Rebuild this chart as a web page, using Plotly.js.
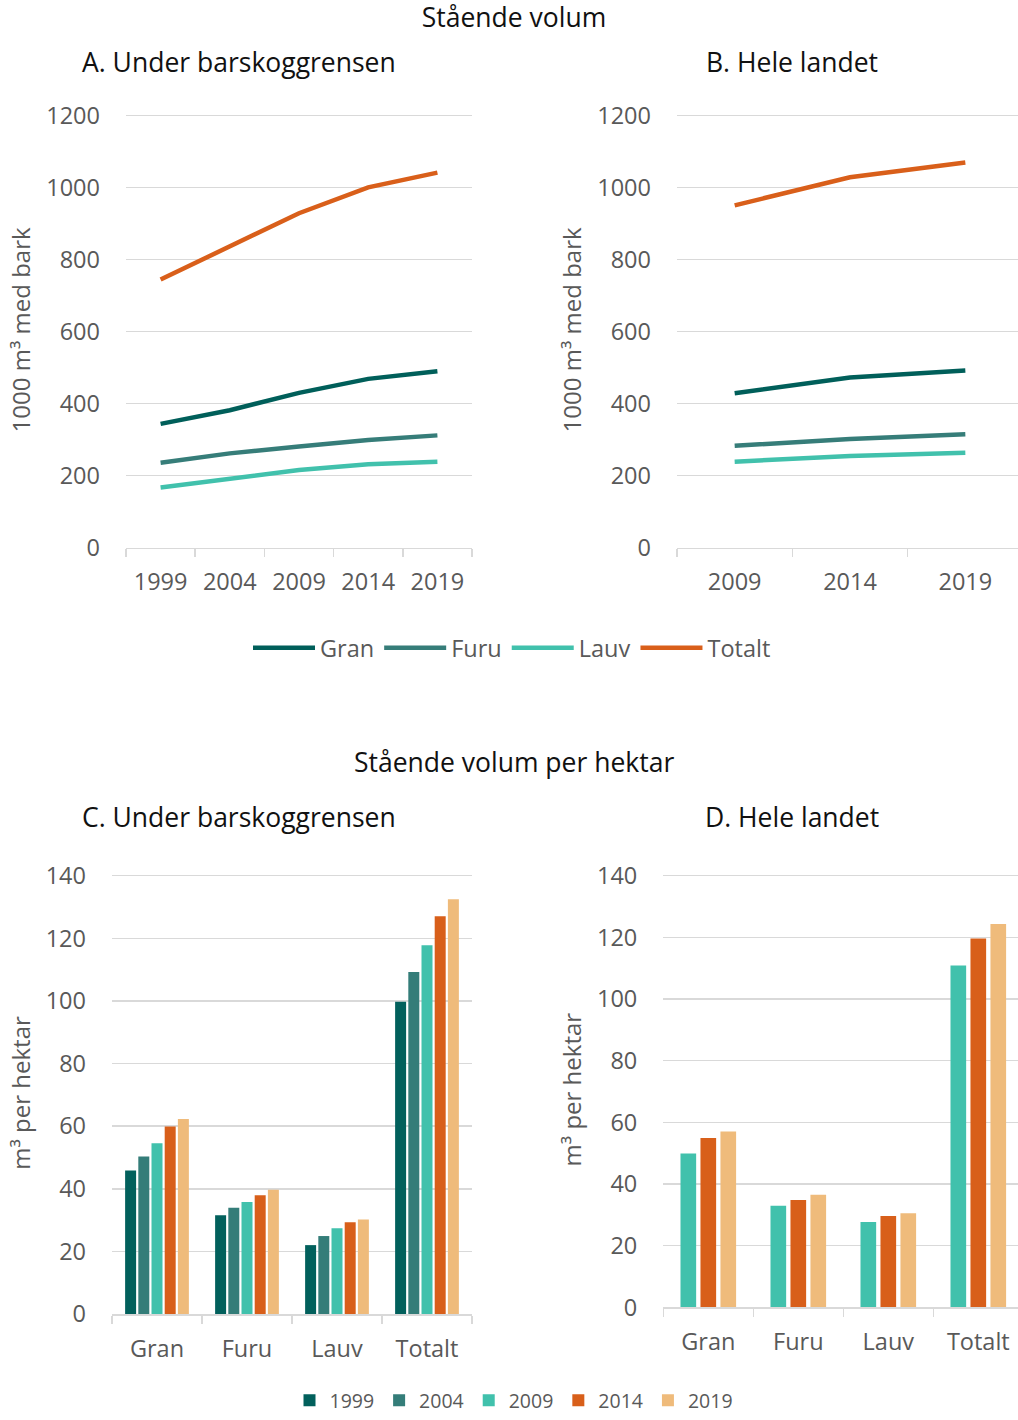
<!DOCTYPE html>
<html>
<head>
<meta charset="utf-8">
<script src="https://cdn.plot.ly/plotly-3.0.1.min.js"></script>
<style>html,body{margin:0;padding:0;background:#fff;overflow:hidden}#chart{width:1018px;height:1420px}</style>
</head>
<body>
<div id="chart"></div>
<script>
// ---- data ----
const yearsA = ['1999', '2004', '2009', '2014', '2019'];
const yearsB = ['2009', '2014', '2019'];
const granA = [344, 382, 430, 469, 490];
const furuA = [236, 262, 281, 299, 312];
const lauvA = [167, 193, 216, 232, 239];
const totaltA = [745, 836, 929, 1001, 1042];
const granB = [429, 473, 492];
const furuB = [283, 302, 315];
const lauvB = [239, 255, 264];
const totaltB = [951, 1029, 1070];

const species = ['Gran', 'Furu', 'Lauv', 'Totalt'];
const barYearsC = ['1999', '2004', '2009', '2014', '2019'];
const hektarC1999 = [45.8, 31.5, 22.0, 99.7];
const hektarC2004 = [50.3, 33.9, 24.9, 109.2];
const hektarC2009 = [54.5, 35.8, 27.4, 117.8];
const hektarC2014 = [59.9, 37.9, 29.3, 127.0];
const hektarC2019 = [62.3, 39.7, 30.2, 132.5];
const barYearsD = ['2009', '2014', '2019'];
const hektarD2009 = [49.9, 32.9, 27.7, 110.9];
const hektarD2014 = [54.9, 34.8, 29.6, 119.6];
const hektarD2019 = [57.0, 36.5, 30.5, 124.3];

// ---- styles ----
const W = 1018, H = 1420;
const FONT = 'Open Sans, Noto Sans, sans-serif';
const TICKCOL = '#595959';
const GRID = '#d9d9d9';
const lineColors = {Gran: '#005f5a', Furu: '#367d79', Lauv: '#41c1ac', Totalt: '#d95f1a'};
const yearColors = {'1999': '#02605c', '2004': '#347d79', '2009': '#41c1ac', '2014': '#d85f1a', '2019': '#efbb7b'};

const px = v => v / W;
const py = v => 1 - v / H;

const traces = [];
const lineSetsA = [['Gran', granA], ['Furu', furuA], ['Lauv', lauvA], ['Totalt', totaltA]];
const lineSetsB = [['Gran', granB], ['Furu', furuB], ['Lauv', lauvB], ['Totalt', totaltB]];
lineSetsA.forEach(([name, vals]) => traces.push({
  type: 'scatter', mode: 'lines', name: name, x: yearsA, y: vals,
  xaxis: 'x', yaxis: 'y', legend: 'legend',
  line: {color: lineColors[name], width: 4.5}, hoverinfo: 'skip'
}));
lineSetsB.forEach(([name, vals]) => traces.push({
  type: 'scatter', mode: 'lines', name: name, x: yearsB, y: vals,
  xaxis: 'x2', yaxis: 'y2', showlegend: false,
  line: {color: lineColors[name], width: 4.5}, hoverinfo: 'skip'
}));

const barsC = [hektarC1999, hektarC2004, hektarC2009, hektarC2014, hektarC2019];
barsC.forEach((vals, i) => traces.push({
  type: 'bar', name: barYearsC[i], x: species, y: vals,
  xaxis: 'x3', yaxis: 'y3', legend: 'legend2',
  marker: {color: yearColors[barYearsC[i]]}, hoverinfo: 'skip'
}));
const barsD = [hektarD2009, hektarD2014, hektarD2019];
const dSlot = 0.222, dWidth = 0.174;
barsD.forEach((vals, i) => traces.push({
  type: 'bar', name: barYearsD[i], x: species, y: vals,
  xaxis: 'x4', yaxis: 'y4', showlegend: false,
  width: dWidth, offset: (i - 1) * dSlot - dWidth / 2,
  marker: {color: yearColors[barYearsD[i]]}, hoverinfo: 'skip'
}));

const tickFont = {family: FONT, size: 23.5, color: TICKCOL};
function xAxis(domain, range) {
  return {
    domain: domain, type: 'category', range: range,
    showgrid: false, zeroline: false, showline: true, linecolor: GRID, linewidth: 1.5,
    ticks: 'outside', tickson: 'boundaries', ticklen: 8, tickcolor: GRID, tickwidth: 1.5,
    tickfont: tickFont, ticklabelstandoff: 13, fixedrange: true
  };
}
function yAxis(domain, range, dtick, title, anchor) {
  return {
    domain: domain, range: range, dtick: dtick, tick0: 0, anchor: anchor,
    showgrid: true, gridcolor: GRID, gridwidth: 1.5, zeroline: false, showline: false,
    ticks: '', tickfont: tickFont, ticklabelstandoff: 25,
    title: {text: title, font: {family: FONT, size: 24, color: TICKCOL}, standoff: 8},
    fixedrange: true
  };
}

const annFont = {family: FONT, size: 26.5, color: '#111'};
const layout = {
  width: W, height: H,
  margin: {l: 0, r: 0, t: 0, b: 0, autoexpand: false},
  paper_bgcolor: '#fff', plot_bgcolor: '#fff',
  font: {family: FONT},
  showlegend: true,
  barmode: 'group', bargap: 0.267, bargroupgap: 0.167,
  title: {text: 'Stående volum', font: annFont, x: 514 / W, xanchor: 'center', y: py(18), yanchor: 'middle'},
  xaxis: xAxis([px(126), px(472)], [-0.5, 4.5]),
  yaxis: yAxis([py(547.7), py(112.1)], [0, 1210], 200, '1000 m³ med bark', 'x'),
  xaxis2: Object.assign(xAxis([px(677), 1], [-0.5, 2.5 - 5 / 115.3]), {anchor: 'y2'}),
  yaxis2: yAxis([py(547.7), py(112.1)], [0, 1210], 200, '1000 m³ med bark', 'x2'),
  xaxis3: Object.assign(xAxis([px(112), px(472)], [-0.5, 3.5]), {anchor: 'y3'}),
  yaxis3: yAxis([py(1314), py(871.9)], [0, 141.2], 20, 'm³ per hektar', 'x3'),
  xaxis4: Object.assign(xAxis([px(663.3), 1], [-0.5, 3.5 - 5.3 / 90]), {anchor: 'y4'}),
  yaxis4: yAxis([py(1307.3), py(872.0)], [0, 141.2], 20, 'm³ per hektar', 'x4'),
  legend: {
    orientation: 'h', x: 512 / W, xanchor: 'center', y: py(648), yanchor: 'middle',
    font: {family: FONT, size: 23.5, color: TICKCOL}, itemwidth: 62, itemclick: false, itemdoubleclick: false,
    bgcolor: 'rgba(0,0,0,0)'
  },
  legend2: {
    orientation: 'h', x: 514 / W, xanchor: 'center', y: 0, yanchor: 'bottom',
    font: {family: FONT, size: 19.5, color: TICKCOL}, itemwidth: 30, itemclick: false, itemdoubleclick: false,
    bgcolor: 'rgba(0,0,0,0)', borderwidth: 0
  },
  annotations: [
    {text: 'A. Under barskoggrensen', x: px(80), y: py(62), xanchor: 'left', yanchor: 'middle'},
    {text: 'B. Hele landet', x: px(704), y: py(62), xanchor: 'left', yanchor: 'middle'},
    {text: 'Stående volum per hektar', x: 514 / W, y: py(762), xanchor: 'center', yanchor: 'middle'},
    {text: 'C. Under barskoggrensen', x: px(80), y: py(817), xanchor: 'left', yanchor: 'middle'},
    {text: 'D. Hele landet', x: px(703), y: py(817), xanchor: 'left', yanchor: 'middle'}
  ].map(a => Object.assign({xref: 'paper', yref: 'paper', showarrow: false, font: annFont}, a))
};

Plotly.newPlot('chart', traces, layout, {displayModeBar: false, staticPlot: true});
</script>
</body>
</html>
